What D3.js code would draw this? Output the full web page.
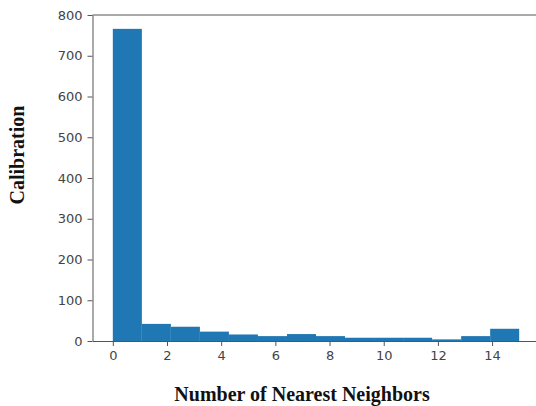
<!DOCTYPE html>
<html><head><meta charset="utf-8">
<script src="https://cdn.jsdelivr.net/npm/d3@7"></script>
<style>body{margin:0;background:#fff}svg{display:block}</style>
</head><body>
<script>
// Histogram: 14 bins over [0, 15]
const binEdges = [0, 1.0714, 2.1429, 3.2143, 4.2857, 5.3571, 6.4286, 7.5, 8.5714, 9.6429, 10.7143, 11.7857, 12.8571, 13.9286, 15];
const counts = [766, 42, 35, 23, 16, 12, 17, 12, 8, 8, 8, 4, 12, 30];
const xTicks = [0, 2, 4, 6, 8, 10, 12, 14];
const yTicks = [0, 100, 200, 300, 400, 500, 600, 700, 800];
const xLabel = "Number of Nearest Neighbors";
const yLabel = "Calibration";

const W = 536, H = 406;
const svg = d3.select("body").append("svg").attr("width", W).attr("height", H);
const x = d3.scaleLinear().domain([-0.75, 15.75]).range([92.5, 539.5]);
const y = d3.scaleLinear().domain([0, 800]).range([341, 15]);

const bars = counts.map((c, i) => ({x0: binEdges[i], x1: binEdges[i + 1], v: c}));
svg.append("g").selectAll("rect").data(bars).join("rect")
  .attr("x", d => x(d.x0)).attr("width", d => x(d.x1) - x(d.x0))
  .attr("y", d => y(d.v)).attr("height", d => y(0) - y(d.v))
  .attr("fill", "#1f77b4");

const axCol = "#555";
const xa = svg.append("g").attr("transform", `translate(0,${y(0)})`)
  .call(d3.axisBottom(x).tickValues(xTicks).tickSize(5).tickPadding(5).tickSizeOuter(0));
const ya = svg.append("g").attr("transform", `translate(${x(-0.75)},0)`)
  .call(d3.axisLeft(y).tickValues(yTicks).tickSize(5).tickPadding(5).tickSizeOuter(0));
[xa, ya].forEach(a => {
  a.selectAll("path").attr("stroke", axCol);
  a.selectAll("line").attr("stroke", axCol);
  a.selectAll("text").attr("fill", "#444").style("font-family", "DejaVu Sans").style("font-size", "13px");
});
// top and right spines
svg.append("line").attr("x1", x(-0.75)).attr("x2", x(15.75)).attr("y1", y(800)).attr("y2", y(800)).attr("stroke", axCol);
svg.append("line").attr("x1", x(15.75)).attr("x2", x(15.75)).attr("y1", y(800)).attr("y2", y(0)).attr("stroke", axCol);

svg.append("text").attr("x", 302).attr("y", 401).attr("text-anchor", "middle")
  .style("font-family", "Liberation Serif").style("font-weight", "bold").style("font-size", "20px")
  .attr("fill", "#111").text(xLabel);
svg.append("text").attr("transform", "translate(24,155) rotate(-90)").attr("text-anchor", "middle")
  .style("font-family", "Liberation Serif").style("font-weight", "bold").style("font-size", "20px")
  .attr("fill", "#111").text(yLabel);
</script>
</body></html>
